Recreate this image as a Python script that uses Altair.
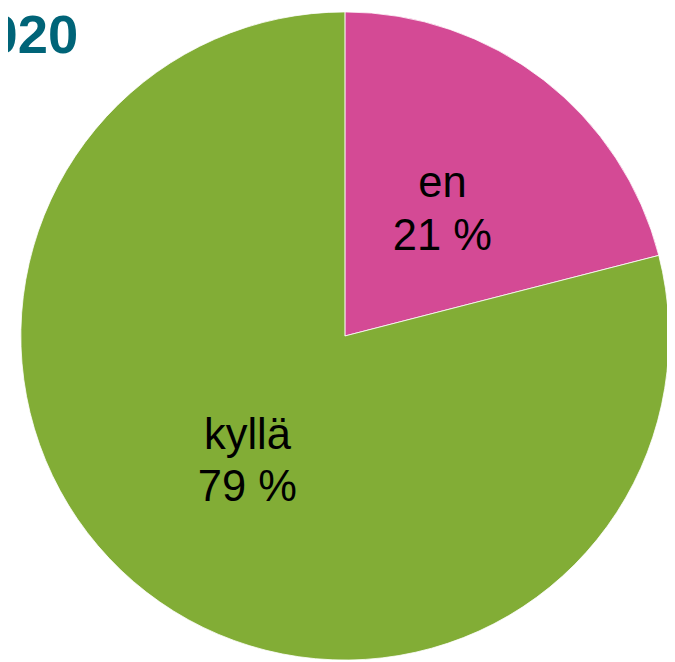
import altair as alt
import pandas as pd

categories = ["en", "kyllä"]
values = [21, 79]
labels = ["en\n21 %", "kyllä\n79 %"]
colors = ["#D44A95", "#82AD36"]
title_text = ["2020"]

df = pd.DataFrame({"cat": categories, "val": values, "label": labels, "ord": [0, 1]})
tdf = pd.DataFrame({"t": title_text})

CX, CY, R = 341, 328, 328

base = alt.Chart(df).encode(
    theta=alt.Theta("val:Q", stack=True),
    order=alt.Order("ord:Q"),
)

pie = base.mark_arc(outerRadius=R, stroke="white", strokeWidth=0.8).encode(
    color=alt.Color("cat:N", scale=alt.Scale(domain=categories, range=colors), legend=None),
    x=alt.value(CX),
    y=alt.value(CY),
)

text = base.mark_text(
    radius=161, font="Liberation Sans", fontSize=44, lineBreak="\n", lineHeight=53,
    color="black", align="center", baseline="middle", dy=-26,
).encode(
    text="label:N",
    x=alt.value(CX),
    y=alt.value(CY),
)

title = alt.Chart(tdf).mark_text(
    font="Liberation Sans", fontSize=55, fontWeight="bold", color="#006478",
    align="right", baseline="alphabetic",
).encode(
    text="t:N",
    x=alt.value(71),
    y=alt.value(42),
)

chart = alt.layer(pie, text, title).properties(
    width=667, height=654, autosize=alt.AutoSizeParams(type="none"), padding=0,
).configure_view(stroke=None)

chart.save("out.html", embed_options={"renderer": "svg", "actions": False})
